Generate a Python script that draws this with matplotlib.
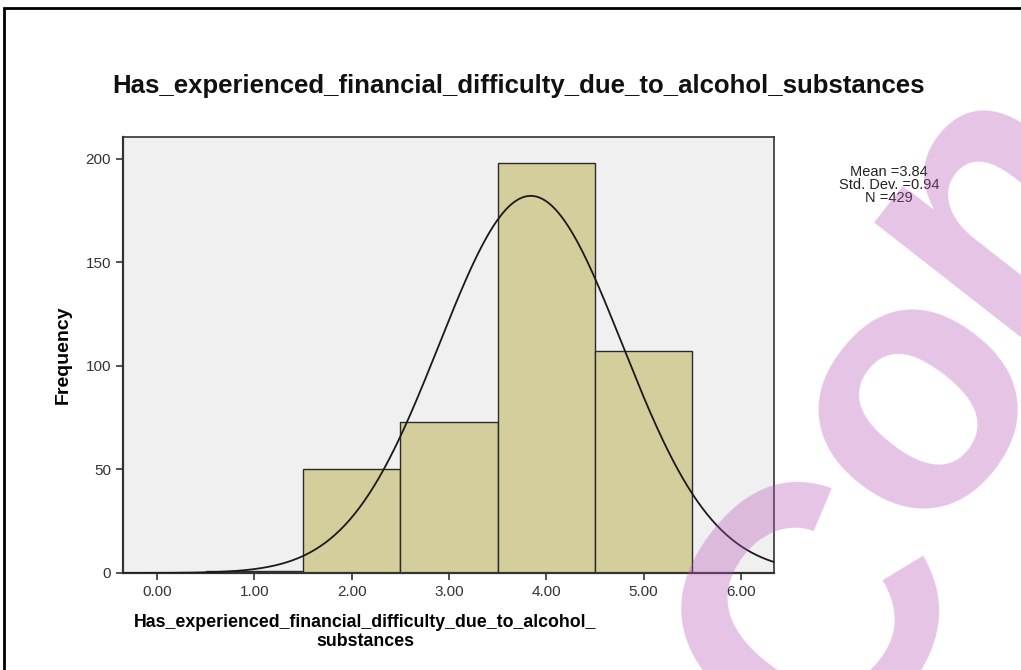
import numpy as np
import matplotlib
matplotlib.use("Agg")
import matplotlib.pyplot as plt
from matplotlib.patches import Rectangle

# 数据：各分值的频数（SPSS 直方图）
values = [1, 2, 3, 4, 5]
counts = [1, 50, 73, 198, 107]
mean, sd, n = 3.84, 0.94, 429
xticks = [0, 1, 2, 3, 4, 5, 6]
yticks = [0, 50, 100, 150, 200]

plt.rcParams["font.family"] = ["Liberation Sans", "DejaVu Sans"]

W, H = 1021, 670
fig = plt.figure(figsize=(W / 100, H / 100), dpi=100)
ax = fig.add_axes([123 / W, 1 - 573 / H, (774 - 123) / W, (573 - 137) / H])

ax.set_facecolor("#f0f0f0")
ax.bar(values, counts, width=1.0, color="#d3ce9b", edgecolor="#2b2b2b", linewidth=1.0, zorder=2)

# 正态曲线
xs = np.linspace(-0.35, 6.34, 400)
ys = n * 1.0 / (sd * np.sqrt(2 * np.pi)) * np.exp(-0.5 * ((xs - mean) / sd) ** 2)
ax.plot(xs, ys, color="#1a1a1a", linewidth=1.3, zorder=3)

ax.set_xlim(-0.35, 6.34)
ax.set_ylim(0, 210.5)
ax.set_xticks(xticks)
ax.set_xticklabels(["{:.2f}".format(v) for v in xticks])
ax.set_yticks(yticks)
ax.tick_params(direction="out", length=5, width=1.2, colors="#333333", labelsize=11, labelcolor="#333333")
for side in ["top", "right"]:
    ax.spines[side].set_color("#333333")
    ax.spines[side].set_linewidth(1.2)
for side in ["left", "bottom"]:
    ax.spines[side].set_color("#333333")
    ax.spines[side].set_linewidth(1.6)

ax.set_ylabel("Frequency", fontsize=14, fontweight="bold", labelpad=10)
ax.set_xlabel("Has_experienced_financial_difficulty_due_to_alcohol_\nsubstances",
              fontsize=12.8, fontweight="bold", linespacing=1.1, labelpad=10)
ax.xaxis.set_label_coords((365 - 123) / (774 - 123), -0.095)
ax.xaxis.label.set_va("top")

fig.text(518 / W, 1 - 86 / H, "Has_experienced_financial_difficulty_due_to_alcohol_substances",
         fontsize=18.5, fontweight="bold", ha="center", va="center", color="#111111")

fig.text(889 / W, 1 - 185 / H, "Mean =%.2f\nStd. Dev. =%.2f\nN =%d" % (mean, sd, n),
         fontsize=10.5, ha="center", va="center", linespacing=0.88, color="#222222")

# 外框
fig.patches.append(Rectangle((4 / W, -0.1), 1.2, 1 - 8 / H + 0.1, transform=fig.transFigure,
                             fill=False, edgecolor="black", linewidth=2))

# 水印（逐个字母放置）
for ch, px, py in [("C", 826, 622), ("o", 915, 401), ("n", 993, 196)]:
    fig.text(px / W, 1 - py / H, ch, fontsize=255, fontweight="bold", rotation=52,
             ha="center", va="center", rotation_mode="anchor", color="#b854b8", alpha=0.35, zorder=10)

fig.savefig("out.png", dpi=100)
